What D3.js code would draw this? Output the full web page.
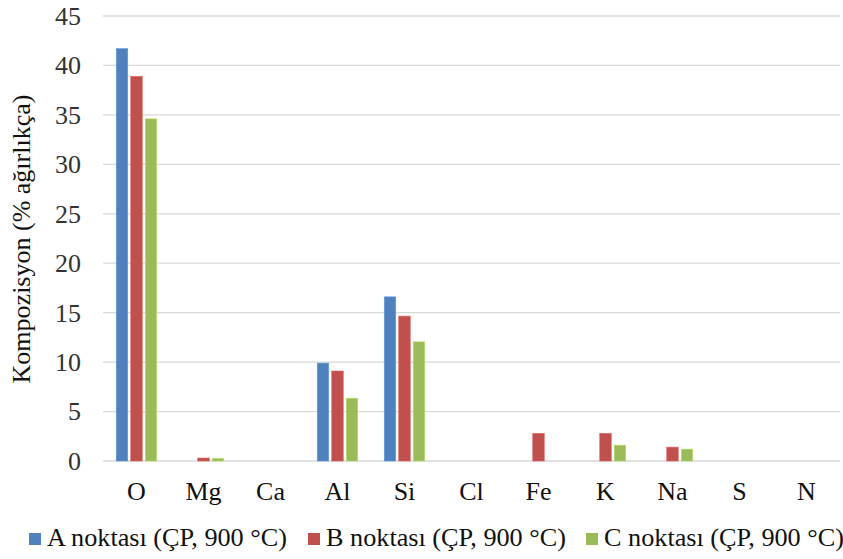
<!DOCTYPE html>
<html><head><meta charset="utf-8">
<script src="https://cdn.jsdelivr.net/npm/d3@7"></script>
<style>body{margin:0;background:#fff} text{font-family:"Liberation Serif","Times New Roman",Times,serif}</style>
</head><body>
<svg id="c" width="843" height="559"></svg>
<script>
const categories = ["O","Mg","Ca","Al","Si","Cl","Fe","K","Na","S","N"];
const seriesNames = ["A noktası (ÇP, 900 °C)","B noktası (ÇP, 900 °C)","C noktası (ÇP, 900 °C)"];
const seriesA = [41.7, 0, 0, 9.9, 16.6, 0, 0, 0, 0, 0, 0];
const seriesB = [38.9, 0.3, 0, 9.1, 14.65, 0, 2.8, 2.8, 1.4, 0, 0];
const seriesC = [34.6, 0.25, 0, 6.35, 12.05, 0, 0, 1.6, 1.2, 0, 0];
const yTicks = [0,5,10,15,20,25,30,35,40,45];
const colors = ["#4F81BD","#C0504D","#9BBB59"];

const svg = d3.select("#c");
const x = d3.scaleBand().domain(categories).range([103, 840]);
const y = d3.scaleLinear().domain([0,45]).range([461, 16]);
const allSeries = [seriesA, seriesB, seriesC];

// gridlines
svg.append("g").selectAll("line").data(yTicks).join("line")
  .attr("x1", 103).attr("x2", 840)
  .attr("y1", d => y(d)).attr("y2", d => y(d))
  .attr("stroke", "#d9d9d9").attr("stroke-width", 1.3);

// y tick labels
svg.append("g").selectAll("text").data(yTicks).join("text")
  .attr("x", 81).attr("y", d => y(d)).attr("dy", "0.34em")
  .attr("text-anchor", "end").attr("font-size", 26)
  .attr("fill", "#333").text(d => d);

// bars
const bw = 11.5, step = 14.5;
allSeries.forEach((vals, si) => {
  svg.append("g").selectAll("rect").data(vals.map((v,i)=>({v, c: categories[i]}))).join("rect")
    .filter(d => d.v > 0)
    .attr("x", d => x(d.c) + x.bandwidth()/2 + (si-1)*step - bw/2)
    .attr("y", d => y(d.v))
    .attr("width", bw)
    .attr("height", d => y(0) - y(d.v))
    .attr("fill", colors[si])
    .attr("stroke", d3.color(colors[si]).brighter(0.5))
    .attr("stroke-width", 0.6);
});

// category labels
svg.append("g").selectAll("text").data(categories).join("text")
  .attr("x", d => x(d) + x.bandwidth()/2).attr("y", 500)
  .attr("text-anchor", "middle").attr("font-size", 26)
  .attr("fill", "#111").text(d => d);

// y title
svg.append("text")
  .attr("transform", "translate(30,239) rotate(-90)")
  .attr("text-anchor", "middle")
  .attr("font-size", 26).attr("fill", "#111")
  .text("Kompozisyon (% ağırlıkça)");

// legend
const legX = [29, 308, 586];
const lg = svg.append("g");
seriesNames.forEach((n, i) => {
  lg.append("rect").attr("x", legX[i]).attr("y", 533).attr("width", 12).attr("height", 12).attr("fill", colors[i]);
  lg.append("text").attr("x", legX[i] + 18).attr("y", 546)
    .attr("font-size", 26).attr("fill", "#111")
    .attr("textLength", 240).attr("lengthAdjust", "spacingAndGlyphs").text(n);
});
</script>
</body></html>
